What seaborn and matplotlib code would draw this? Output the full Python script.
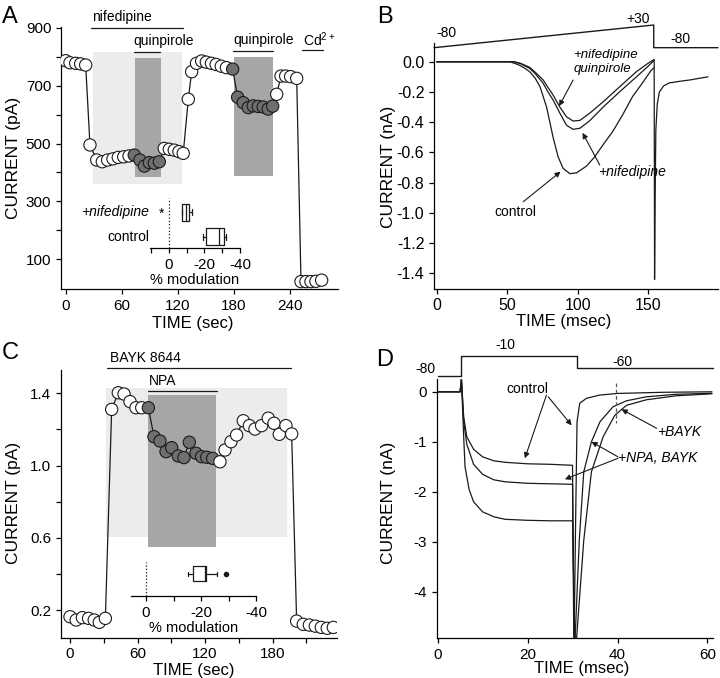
import matplotlib
matplotlib.use("Agg")
import matplotlib.pyplot as plt
import pandas as pd
import seaborn as sns
from matplotlib.patches import Rectangle
from matplotlib.ticker import FormatStrFormatter

# ---------------- panel A : time course, nifedipine / quinpirole ----------------
A_TIME = [0, 4.6, 10.7, 16.0, 21.4, 26.0,
          33.2, 39.2, 44.9, 50.6, 56.3, 62.1, 67.8,
          73.4, 79.5, 84.2, 89.5, 94.9, 100.2,
          105.5, 110.9, 116.2, 121.2, 125.8, 131.2, 134.8,
          140.0, 145.5, 150.5, 156.0, 161.0, 166.5, 172.0,
          178.7, 184.0, 190.0, 195.4, 200.7, 206.0, 211.4, 216.7, 221.5,
          225.8, 230.4, 235.4, 240.7, 247.2,
          251.8, 257.1, 262.5, 267.8, 273.9]
A_CURRENT = [786, 779, 777, 775, 771, 495,
             443, 437, 443, 447, 452, 454, 457,
             460, 443, 422, 434, 432, 437,
             483, 480, 477, 472, 466, 653, 748,
             777, 785, 781, 777, 773, 767, 762,
             757, 660, 641, 624, 630, 628, 626, 619, 629,
             670, 733, 733, 731, 725,
             23, 23, 23, 24, 28]
A_STATE = (["open"] * 13 + ["drug"] * 6 + ["open"] * 14 + ["drug"] * 9
           + ["open"] * 10)
A_NIF_SHADE = (29.6, 124.0, 359, 817)
A_QUIN_SHADES = [(73.8, 101.6, 385, 796), (180.0, 221.5, 389, 800)]
A_BARS = [("nifedipine", 26.7, 125.8, 900), ("quinpirole", 73.5, 101.0, 817),
          ("quinpirole", 179.0, 222.0, 820), ("Cd$^{2+}$", 252.5, 275.0, 823)]

# inset A: % modulation box plots
A_BOX_ROWS = ["+nifedipine", "control"]
A_BOX_STATS = [dict(whislo=-12.8, q1=-11.4, med=-9.5, q3=-7.2, whishi=-7.2, fliers=[]),
               dict(whislo=-32.1, q1=-31.0, med=-28.3, q3=-20.8, whishi=-19.3, fliers=[])]

# ---------------- panel B : ramp currents ----------------
B_CTRL_T = [0, 20, 40, 52, 58, 62, 66, 70, 73.3, 78, 82.6, 86.2, 89.7, 94.5, 99.2,
            106.3, 112, 118, 125, 132, 139, 146, 152.3, 154.3]
B_CTRL_I = [0, 0, 0, 0, -0.02, -0.04, -0.066, -0.11, -0.165, -0.30, -0.50, -0.63, -0.705,
            -0.74, -0.735, -0.69, -0.63, -0.55, -0.46, -0.35, -0.23, -0.14, -0.055, -0.04]
B_NIF_T = [0, 20, 40, 55, 60, 66, 70, 75.6, 79, 82.6, 87.4, 92.1, 96.8, 101.6, 108.6,
           118.1, 129.9, 141.7, 150, 154.3]
B_NIF_I = [0, 0, 0, 0, -0.015, -0.044, -0.08, -0.143, -0.2, -0.253, -0.34, -0.42, -0.447,
           -0.44, -0.39, -0.30, -0.198, -0.10, -0.03, 0.01]
B_QUIN_T = [0, 20, 40, 55, 60, 66, 70, 75.6, 79, 82.6, 87.4, 92.1, 96.8, 101.6, 108.6,
            118.1, 129.9, 141.7, 150, 154.3]
B_QUIN_I = [0, 0, 0, 0, -0.012, -0.037, -0.07, -0.121, -0.17, -0.22, -0.30, -0.364, -0.392,
            -0.388, -0.34, -0.265, -0.165, -0.066, -0.01, 0.015]
B_TAIL_T = [154.3, 154.6, 155.0, 155.5, 156.5, 158, 161, 165, 172, 180, 186, 192.5]
B_TAIL_I = [0.01, -1.44, -0.9, -0.45, -0.28, -0.2, -0.16, -0.14, -0.13, -0.12, -0.11, -0.10]
B_PROTO_T = [-1.9, 154, 154, 199.6]
B_PROTO_Y = [0.093, 0.243, 0.093, 0.093]

# ---------------- panel C : time course, BAYK 8644 / NPA ----------------
C_TIME = [0, 5.5, 11.0, 16.5, 21.5, 26.0, 31.4,
          37.0, 42.9, 48.0, 53.3, 58.6, 63.7,
          69.6, 74.6, 79.9, 85.3, 90.3, 96.2, 101.2, 106.0, 111.9, 116.9, 121.4, 126.7,
          133.2, 137.7, 143.0, 148.0, 153.9, 159.3, 164.3, 170.2, 176.1, 181.2, 185.9,
          191.8, 196.9,
          201.3, 207.2, 212.6, 217.9, 223.2, 228.5, 233.9]
C_CURRENT = [0.163, 0.145, 0.158, 0.154, 0.145, 0.132, 0.154,
             1.311, 1.403, 1.396, 1.354, 1.320, 1.320,
             1.320, 1.160, 1.136, 1.077, 1.099, 1.053, 1.044, 1.129, 1.068, 1.049, 1.046, 1.040,
             1.021, 1.086, 1.132, 1.169, 1.248, 1.221, 1.202, 1.221, 1.262, 1.234, 1.173,
             1.221, 1.175,
             0.139, 0.121, 0.117, 0.111, 0.104, 0.099, 0.104]
C_STATE = ["open"] * 13 + ["drug"] * 12 + ["open"] * 20
C_BAYK_SHADE = (32.0, 193.0, 0.606, 1.431)
C_NPA_SHADE = (69.6, 129.7, 0.547, 1.391)
C_BARS = [("BAYK 8644", 33.0, 196.0, 1.542), ("NPA", 69.6, 130.3, 1.414)]
C_BOX_STATS = [dict(whislo=-25.7, q1=-21.8, med=-21.3, q3=-17.2, whishi=-15.4, fliers=[-29.1])]

# ---------------- panel D : step currents ----------------
D_CTRL_T = [0, 5.0, 5.3, 5.8, 6.5, 8, 10, 12.5, 15, 20, 25, 30.0, 30.3, 30.7, 31.0, 31.6,
            33.1, 36, 40, 50, 61]
D_CTRL_I = [0, 0, 0.25, -0.5, -0.9, -1.15, -1.3, -1.38, -1.41, -1.44, -1.45, -1.47, -5.3,
            -2.5, -0.6, -0.23, -0.13, -0.066, -0.033, -0.01, 0]
D_NPA_T = [0, 5.0, 5.3, 5.8, 6.5, 8, 10, 12.5, 15, 20, 25, 30.0, 30.4, 31.5, 32.5, 34.2,
           36.1, 39, 42, 46.4, 53, 61]
D_NPA_I = [0, 0, 0.25, -0.6, -1.05, -1.45, -1.65, -1.76, -1.8, -1.83, -1.84, -1.85, -5.3,
           -2.97, -1.6, -1.0, -0.6, -0.3, -0.18, -0.1, -0.05, -0.03]
D_BAYK_T = [0, 5.0, 5.3, 5.8, 6.1, 7, 8, 10, 12.5, 15, 20, 25, 30.0, 30.6, 32.5, 34.2,
            36.8, 39.4, 42, 46.4, 53, 61]
D_BAYK_I = [0, 0, 0.25, -0.9, -1.5, -1.95, -2.2, -2.4, -2.5, -2.55, -2.57, -2.58, -2.58,
            -5.3, -2.97, -1.6, -0.9, -0.47, -0.27, -0.16, -0.08, -0.04]
D_PROTO_T = [0, 5.2, 5.2, 30.9, 30.9, 61.3]
D_PROTO_Y = [0.314, 0.314, 0.72, 0.72, 0.48, 0.48]

OPEN, DRUG = "white", "#6f6f6f"
LIGHT, DARK = "#ececec", "#a6a6a6"
W, H = 720, 678

sns.set_theme(style="ticks")
plt.rcParams["font.family"] = ["Liberation Sans", "DejaVu Sans"]
plt.rcParams.update({
    "axes.unicode_minus": False,
    "mathtext.fontset": "custom",
    "mathtext.rm": "Liberation Sans",
    "mathtext.default": "regular",
    "axes.edgecolor": "black", "axes.labelcolor": "black", "text.color": "black",
    "xtick.color": "black", "ytick.color": "black",
    "axes.linewidth": 0.9, "xtick.major.width": 0.9, "ytick.major.width": 0.9,
    "xtick.major.size": 3.5, "ytick.major.size": 3.5,
    "xtick.labelsize": 11, "ytick.labelsize": 11,
})

fig = plt.figure(figsize=(7.2, 6.78), dpi=100)


def place(left, top, right, bottom):
    return fig.add_axes([left / W, 1 - bottom / H, (right - left) / W, (bottom - top) / H])


def trace(ax, t, v):
    sns.lineplot(x=t, y=v, sort=False, estimator=None, color="k", lw=0.9, ax=ax)


def arrow(ax, tail, tip):
    ax.annotate("", xy=tip, xytext=tail,
                arrowprops=dict(arrowstyle="-|>", color="k", lw=0.8, mutation_scale=8,
                                shrinkA=0, shrinkB=0))


def timecourse(ax, t, i, state):
    df = pd.DataFrame({"t": t, "i": i, "state": state})
    sns.lineplot(data=df, x="t", y="i", sort=False, estimator=None, color="k", lw=0.9,
                 ax=ax, zorder=2)
    sns.scatterplot(data=df, x="t", y="i", hue="state", palette={"open": OPEN, "drug": DRUG},
                    s=78, edgecolor="k", linewidth=0.8, legend=False, ax=ax, zorder=3)


def shade(ax, box, color):
    x0, x1, y0, y1 = box
    ax.add_patch(Rectangle((x0, y0), x1 - x0, y1 - y0, color=color, lw=0, zorder=0))


def inset_box(ax, stats, pos, width, xlim, ytop):
    ax.bxp(stats, positions=pos, widths=width, orientation="horizontal", manage_ticks=False,
           boxprops=dict(color="k", lw=0.9), whiskerprops=dict(color="k", lw=0.9),
           capprops=dict(color="k", lw=0.9), medianprops=dict(color="k", lw=0.9),
           flierprops=dict(marker="o", markersize=3, markerfacecolor="k", markeredgecolor="k"),
           capwidths=0.12)
    ax.axvline(0, 0, ytop, color="k", ls=":", lw=0.9)
    ax.set_xlim(*xlim)
    ax.set_ylim(0, 1)
    ax.set_facecolor("none")
    for s in ("left", "top", "right"):
        ax.spines[s].set_visible(False)
    ax.set_yticks([])
    ticks = [v for v in (10, 0, -10, -20, -30, -40) if xlim[1] <= v <= xlim[0]]
    ax.set_xticks(ticks)
    ax.set_xticklabels(["%d" % v if v in (0, -20, -40) else "" for v in ticks])
    ax.set_xlabel("% modulation", fontsize=10.5, labelpad=1)


def finish(ax, xlabel, ylabel, xl, yl):
    sns.despine(ax=ax)
    ax.set_xlabel(xlabel, fontsize=12)
    ax.set_ylabel(ylabel, fontsize=12.5)
    ax.xaxis.set_label_coords(*xl)
    ax.yaxis.set_label_coords(*yl)


# ---- A ----
ax = place(61, 26.7, 338, 289)
shade(ax, A_NIF_SHADE, LIGHT)
for b in A_QUIN_SHADES:
    shade(ax, b, DARK)
timecourse(ax, A_TIME, A_CURRENT, A_STATE)
for name, x0, x1, y in A_BARS:
    ax.plot([x0, x1], [y, y], color="k", lw=0.9, clip_on=False)
ax.text(27.8, 938, "nifedipine", fontsize=10, va="center", ha="left")
ax.text(104.8, 855, "quinpirole", fontsize=10, va="center", ha="center")
ax.text(212.2, 857, "quinpirole", fontsize=10, va="center", ha="center")
ax.text(254.2, 860, "Cd$^{2+}$", fontsize=10, va="center", ha="left")
ax.set_xlim(-5, 291.4)
ax.set_ylim(-2.6, 903.5)
ax.set_xticks([0, 60, 120, 180, 240])
ax.set_yticks(range(100, 1000, 100))
ax.set_yticklabels([str(v) if v % 200 == 100 else "" for v in range(100, 1000, 100)])
finish(ax, "TIME (sec)", "CURRENT (pA)", (0.477, -0.102), (-0.144, 0.5))

axi = place(150, 198.3, 240, 248.3)
inset_box(axi, A_BOX_STATS, [0.72, 0.232], 0.33, (10.7, -40), 1.0)
axi.text(4.1, 0.70, "*", fontsize=10, ha="center", va="center")
axi.text(-0.01, 0.72, A_BOX_ROWS[0], transform=axi.transAxes, fontsize=10,
         style="italic", ha="right", va="center")
axi.text(-0.01, 0.232, A_BOX_ROWS[1], transform=axi.transAxes, fontsize=10,
         ha="right", va="center")

# ---- B ----
ax = place(434, 43.3, 718, 288.7)
trace(ax, B_CTRL_T, B_CTRL_I)
trace(ax, B_NIF_T, B_NIF_I)
trace(ax, B_QUIN_T, B_QUIN_I)
trace(ax, B_TAIL_T, B_TAIL_I)
ax.plot(B_PROTO_T, B_PROTO_Y, color="k", lw=1.0, clip_on=False)
ax.text(6.6, 0.188, "-80", fontsize=10, ha="center", va="center")
ax.text(143.2, 0.282, "+30", fontsize=10, ha="center", va="center")
ax.text(173.1, 0.148, "-80", fontsize=10, ha="center", va="center")
ax.text(96.8, 0.042, "+nifedipine", fontsize=9.5, style="italic", ha="left", va="center")
ax.text(96.8, -0.046, "quinpirole", fontsize=9.5, style="italic", ha="left", va="center")
arrow(ax, (96.8, -0.121), (86.9, -0.293))
ax.text(114.5, -0.727, "+nifedipine", fontsize=10, style="italic", ha="left", va="center")
arrow(ax, (115.7, -0.683), (103.5, -0.47))
ax.text(56.1, -0.992, "control", fontsize=10, ha="center", va="center")
arrow(ax, (61.4, -0.926), (87.9, -0.727))
ax.set_xlim(-1.9, 199.6)
ax.set_ylim(-1.501, 0.122)
ax.set_xticks([0, 50, 100, 150])
ax.set_yticks([0.0, -0.2, -0.4, -0.6, -0.8, -1.0, -1.2, -1.4])
ax.yaxis.set_major_formatter(FormatStrFormatter("%.1f"))
ax.tick_params(labelsize=11.5)
finish(ax, "TIME (msec)", "CURRENT (nA)", (0.458, -0.104), (-0.133, 0.497))

# ---- C ----
ax = place(61, 370, 336.7, 637.7)
shade(ax, C_BAYK_SHADE, LIGHT)
shade(ax, C_NPA_SHADE, DARK)
timecourse(ax, C_TIME, C_CURRENT, C_STATE)
for name, x0, x1, y in C_BARS:
    ax.plot([x0, x1], [y, y], color="k", lw=0.9, clip_on=False)
ax.text(35.2, 1.594, "BAYK 8644", fontsize=10, ha="left", va="center")
ax.text(70.5, 1.47, "NPA", fontsize=10, ha="left", va="center")
ax.set_xlim(-8, 236.9)
ax.set_ylim(0.047, 1.529)
ax.set_xticks(range(0, 240, 30))
ax.set_xticklabels([str(v) if v % 60 == 0 else "" for v in range(0, 240, 30)])
yt = [0.2, 0.4, 0.6, 0.8, 1.0, 1.2, 1.4]
ax.set_yticks(yt)
ax.set_yticklabels(["%.1f" % v if k % 2 == 0 else "" for k, v in enumerate(yt)])
finish(ax, "TIME (sec)", "CURRENT (pA)", (0.48, -0.095), (-0.145, 0.502))

axi = place(130.7, 561.7, 256, 596)
inset_box(axi, C_BOX_STATS, [0.65], 0.44, (5.6, -40), 1.0)

# ---- D ----
ax = place(436.7, 379.3, 713.3, 638.3)
trace(ax, D_CTRL_T, D_CTRL_I)
trace(ax, D_NPA_T, D_NPA_I)
trace(ax, D_BAYK_T, D_BAYK_I)
ax.plot(D_PROTO_T, D_PROTO_Y, color="k", lw=1.0, clip_on=False)
ax.text(-2.7, 0.448, "-80", fontsize=10, ha="center", va="center")
ax.text(15.0, 0.934, "-10", fontsize=10, ha="center", va="center")
ax.text(41.2, 0.60, "-60", fontsize=10, ha="center", va="center")
ax.plot([39.6, 39.6], [0.17, -0.63], color="0.35", lw=0.9, ls=(0, (3, 2)))
ax.text(19.96, 0.048, "control", fontsize=10, ha="center", va="center")
arrow(ax, (24.2, -0.066), (19.4, -1.33))
arrow(ax, (24.6, -0.10), (29.8, -0.67))
ax.text(40.1, -1.33, "+NPA, BAYK", fontsize=10, style="italic", ha="left", va="center")
arrow(ax, (40.1, -1.30), (34.2, -1.0))
arrow(ax, (40.1, -1.33), (28.3, -1.75))
ax.text(48.7, -0.80, "+BAYK", fontsize=10, style="italic", ha="left", va="center")
arrow(ax, (48.7, -0.73), (40.9, -0.35))
ax.set_xlim(-0.2, 61.3)
ax.set_ylim(-4.93, 0.25)
ax.set_xticks([0, 20, 40, 60])
ax.set_yticks([0, -1, -2, -3, -4])
finish(ax, "TIME (msec)", "CURRENT (nA)", (0.524, -0.088), (-0.146, 0.521))

for letter, x, y in [("A", 10, 16.7), ("B", 385, 16.7), ("C", 10, 353), ("D", 385, 360)]:
    fig.text(x / W, 1 - y / H, letter, fontsize=17, ha="center", va="center")

fig.savefig("out.png", dpi=100)
